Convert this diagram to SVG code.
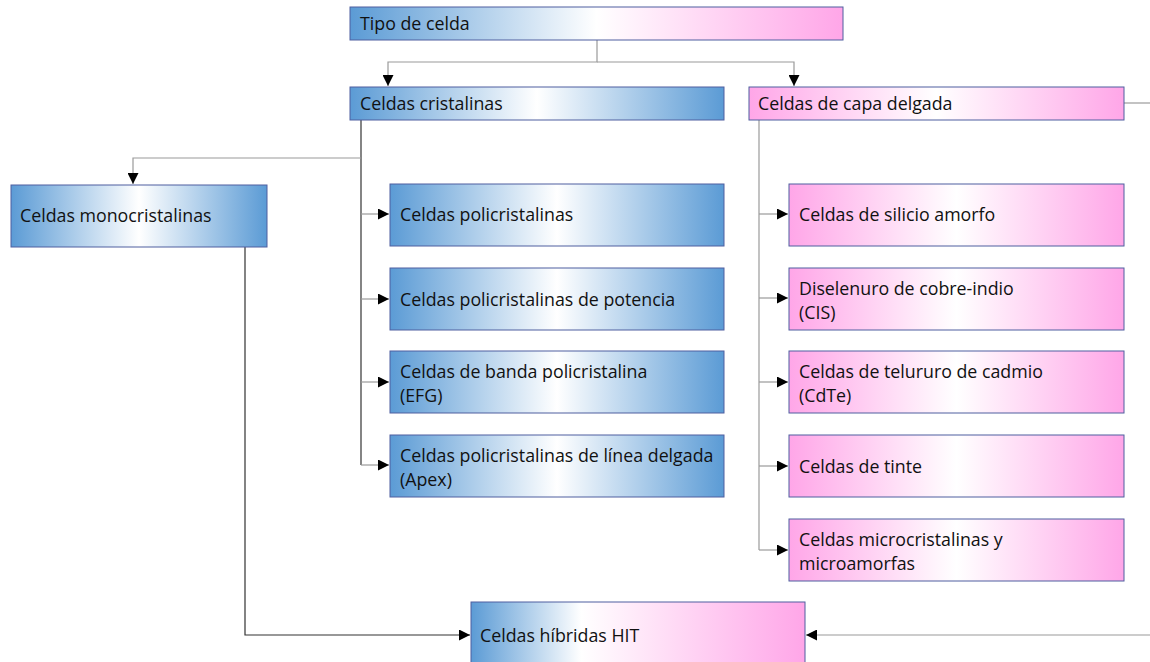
<svg xmlns="http://www.w3.org/2000/svg" width="1150" height="662" viewBox="0 0 1150 662">
<defs>
<linearGradient id="gBlue" x1="0" y1="0" x2="1" y2="0">
<stop offset="0" stop-color="#5b9bd5"/><stop offset="0.5" stop-color="#ffffff"/><stop offset="1" stop-color="#5b9bd5"/>
</linearGradient>
<linearGradient id="gPink" x1="0" y1="0" x2="1" y2="0">
<stop offset="0" stop-color="#ffa6e8"/><stop offset="0.5" stop-color="#ffffff"/><stop offset="1" stop-color="#ffa6e8"/>
</linearGradient>
<linearGradient id="gTipo" x1="0" y1="0" x2="1" y2="0">
<stop offset="0" stop-color="#5b9bd5"/><stop offset="0.5" stop-color="#ffffff"/><stop offset="1" stop-color="#ffa6e8"/>
</linearGradient>
<linearGradient id="gHit" x1="0" y1="0" x2="1" y2="0">
<stop offset="0" stop-color="#5b9bd5"/><stop offset="0.33" stop-color="#ffffff"/><stop offset="1" stop-color="#ffa6e8"/>
</linearGradient>
<marker id="arr" viewBox="0 0 10 10" refX="10" refY="5" markerWidth="11" markerHeight="11" markerUnits="userSpaceOnUse" orient="auto">
<path d="M0,0 L10,5 L0,10 z" fill="#000"/>
</marker>
</defs>
<style>
.box{stroke:#4f5f9f;stroke-width:1}
.t{font-family:"Open Sans","Liberation Sans",sans-serif;font-size:17.8px;fill:#111}
.c{fill:none;stroke:#9a9a9a;stroke-width:1.2}
.d{fill:none;stroke:#333;stroke-width:1.2}
</style>
<rect width="1150" height="662" fill="#fff"/>
<g id="connectors">
<path class="c" d="M597,40 V62 H388 V86" marker-end="url(#arr)"/>
<path class="c" d="M597,62 H794 V86" marker-end="url(#arr)"/>
<path class="d" d="M361,120 V465"/>
<path class="c" d="M361,158 H133 V184" marker-end="url(#arr)"/>
<path class="c" d="M361,214 H389" marker-end="url(#arr)"/>
<path class="c" d="M361,299 H389" marker-end="url(#arr)"/>
<path class="c" d="M361,382 H389" marker-end="url(#arr)"/>
<path class="c" d="M361,465 H389" marker-end="url(#arr)"/>
<path class="d" d="M245,247 V635 H470" marker-end="url(#arr)"/>
<path class="c" d="M759,120 V550"/>
<path class="c" d="M759,214 H788" marker-end="url(#arr)"/>
<path class="c" d="M759,298 H788" marker-end="url(#arr)"/>
<path class="c" d="M759,382 H788" marker-end="url(#arr)"/>
<path class="c" d="M759,466 H788" marker-end="url(#arr)"/>
<path class="c" d="M759,550 H788" marker-end="url(#arr)"/>
<path class="c" d="M1124,103 H1150"/>
<path class="c" d="M1150,635 H806" marker-end="url(#arr)"/>
</g>
<g id="tipo"><rect class="box" x="350" y="7" width="493" height="33" fill="url(#gTipo)"/><text class="t" x="360" y="30">Tipo de celda</text></g>
<g id="cristalinas"><rect class="box" x="350" y="87" width="374" height="33" fill="url(#gBlue)"/><text class="t" x="360" y="110">Celdas cristalinas</text></g>
<g id="capa"><rect class="box" x="749" y="87" width="375" height="33" fill="url(#gPink)"/><text class="t" x="758" y="110">Celdas de capa delgada</text></g>
<g id="mono"><rect class="box" x="11" y="185" width="256" height="62" fill="url(#gBlue)"/><text class="t" x="20" y="222">Celdas monocristalinas</text></g>
<g id="poli"><rect class="box" x="390" y="184" width="334" height="62" fill="url(#gBlue)"/><text class="t" x="400" y="221">Celdas policristalinas</text></g>
<g id="potencia"><rect class="box" x="390" y="268" width="334" height="62" fill="url(#gBlue)"/><text class="t" x="400" y="306">Celdas policristalinas de potencia</text></g>
<g id="efg"><rect class="box" x="390" y="351" width="334" height="62" fill="url(#gBlue)"/><text class="t" x="400" y="378">Celdas de banda policristalina</text><text class="t" x="400" y="402">(EFG)</text></g>
<g id="apex"><rect class="box" x="390" y="435" width="334" height="62" fill="url(#gBlue)"/><text class="t" x="400" y="462">Celdas policristalinas de línea delgada</text><text class="t" x="400" y="486">(Apex)</text></g>
<g id="silicio"><rect class="box" x="789" y="184" width="335" height="62" fill="url(#gPink)"/><text class="t" x="799" y="221">Celdas de silicio amorfo</text></g>
<g id="cis"><rect class="box" x="789" y="268" width="335" height="62" fill="url(#gPink)"/><text class="t" x="799" y="295">Diselenuro de cobre-indio</text><text class="t" x="799" y="319">(CIS)</text></g>
<g id="cdte"><rect class="box" x="789" y="351" width="335" height="62" fill="url(#gPink)"/><text class="t" x="799" y="378">Celdas de telururo de cadmio</text><text class="t" x="799" y="402">(CdTe)</text></g>
<g id="tinte"><rect class="box" x="789" y="435" width="335" height="62" fill="url(#gPink)"/><text class="t" x="799" y="473">Celdas de tinte</text></g>
<g id="micro"><rect class="box" x="789" y="519" width="335" height="62" fill="url(#gPink)"/><text class="t" x="799" y="546">Celdas microcristalinas y</text><text class="t" x="799" y="570">microamorfas</text></g>
<g id="hit"><rect class="box" x="471" y="602" width="334" height="62" fill="url(#gHit)"/><text class="t" x="480" y="642">Celdas híbridas HIT</text></g>
</svg>
